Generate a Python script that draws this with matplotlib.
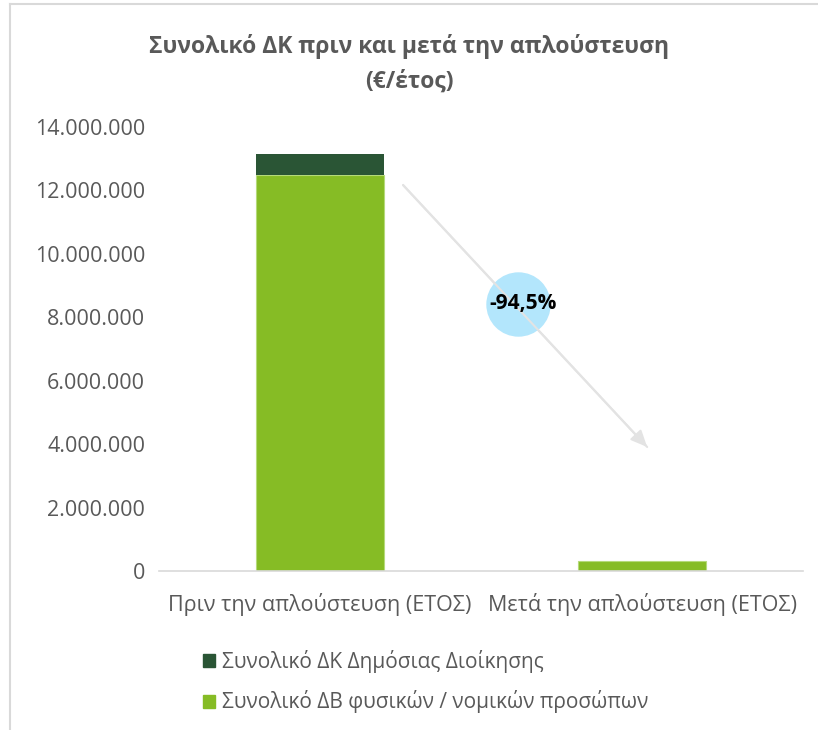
import matplotlib
matplotlib.use("Agg")
import matplotlib.pyplot as plt
from matplotlib.ticker import FuncFormatter
from matplotlib.lines import Line2D
from matplotlib.patches import Patch

categories = ["Πριν την απλούστευση (ΕΤΟΣ)", "Μετά την απλούστευση (ΕΤΟΣ)"]
series_dv = [12500000, 300000]   # Συνολικό ΔΒ φυσικών / νομικών προσώπων
series_dk = [650000, 10000]      # Συνολικό ΔΚ Δημόσιας Διοίκησης
label_dk = "Συνολικό ΔΚ Δημόσιας Διοίκησης"
label_dv = "Συνολικό ΔΒ φυσικών / νομικών προσώπων"
change_label = "-94,5%"
title = "Συνολικό ΔΚ πριν και μετά την απλούστευση\n(€/έτος)"

plt.rcParams['font.family'] = ['Open Sans', 'DejaVu Sans']
c_light = "#86bc25"
c_dark = "#2a5535"
txt = "#595959"

fig = plt.figure(figsize=(8.18, 7.30), dpi=100)
ax = fig.add_axes([159/818, 1-571/730, (803-159)/818, (571-127)/730])

x = list(range(len(categories)))
ax.bar(x, series_dv, width=0.4, color=c_light, edgecolor="#b5da7a", linewidth=0.8)
ax.bar(x, series_dk, width=0.4, bottom=series_dv, color=c_dark, linewidth=0)

ax.set_xlim(-0.5, 1.5)
ax.set_ylim(0, 14000000)
ax.set_yticks(range(0, 14000001, 2000000))
ax.yaxis.set_major_formatter(FuncFormatter(lambda v, p: f"{int(v):,}".replace(",", ".")))
ax.set_xticks(x)
ax.set_xticklabels(categories)
ax.tick_params(axis='y', length=0, labelsize=15.5, colors=txt, pad=10)
ax.tick_params(axis='x', length=0, labelsize=15.5, colors=txt, pad=16)
for s in ["top", "right", "left"]:
    ax.spines[s].set_visible(False)
ax.spines["bottom"].set_color("#d9d9d9")
ax.spines["bottom"].set_linewidth(1.2)

# arrow and change bubble
ax.annotate("", xy=(1.016, 3.91e6), xytext=(0.258, 12.17e6),
            arrowprops=dict(arrowstyle="-|>,head_length=1.0,head_width=0.45",
                            color="#e3e3e3", lw=1.5, shrinkA=0, shrinkB=0))
ax.scatter([0.615], [8.42e6], s=2150, color="#b3e6fc", zorder=3, linewidths=0)
ax.annotate("", xy=(1.016, 3.91e6), xytext=(0.258, 12.17e6), zorder=4,
            arrowprops=dict(arrowstyle="-", color="#e3e3e3", lw=1.5, shrinkA=0, shrinkB=0))
ax.text(0.632, 8.45e6, change_label, ha="center", va="center", fontsize=15,
        fontweight="bold", color="black", zorder=5)

fig.text(409/818, 1-64/730, title, ha="center", va="center", fontsize=16.5,
         fontweight="bold", color=txt, linespacing=1.6)

handles = [Patch(color=c_dark, label=label_dk), Patch(color=c_light, label=label_dv)]
fig.legend(handles=handles, loc="upper left", bbox_to_anchor=(184/818, 1-631/730),
           frameon=False, fontsize=15, labelcolor=txt, handlelength=0.6,
           handleheight=0.6, handletextpad=0.3, labelspacing=0.85)

# outer frame (left and top edges visible)
fig.add_artist(Line2D([10/818, 10/818], [0, 1-4/730], transform=fig.transFigure,
                      color="#d9d9d9", lw=1.5))
fig.add_artist(Line2D([10/818, 1], [1-4/730, 1-4/730], transform=fig.transFigure,
                      color="#d9d9d9", lw=1.5))

fig.savefig("out.png", dpi=100)
